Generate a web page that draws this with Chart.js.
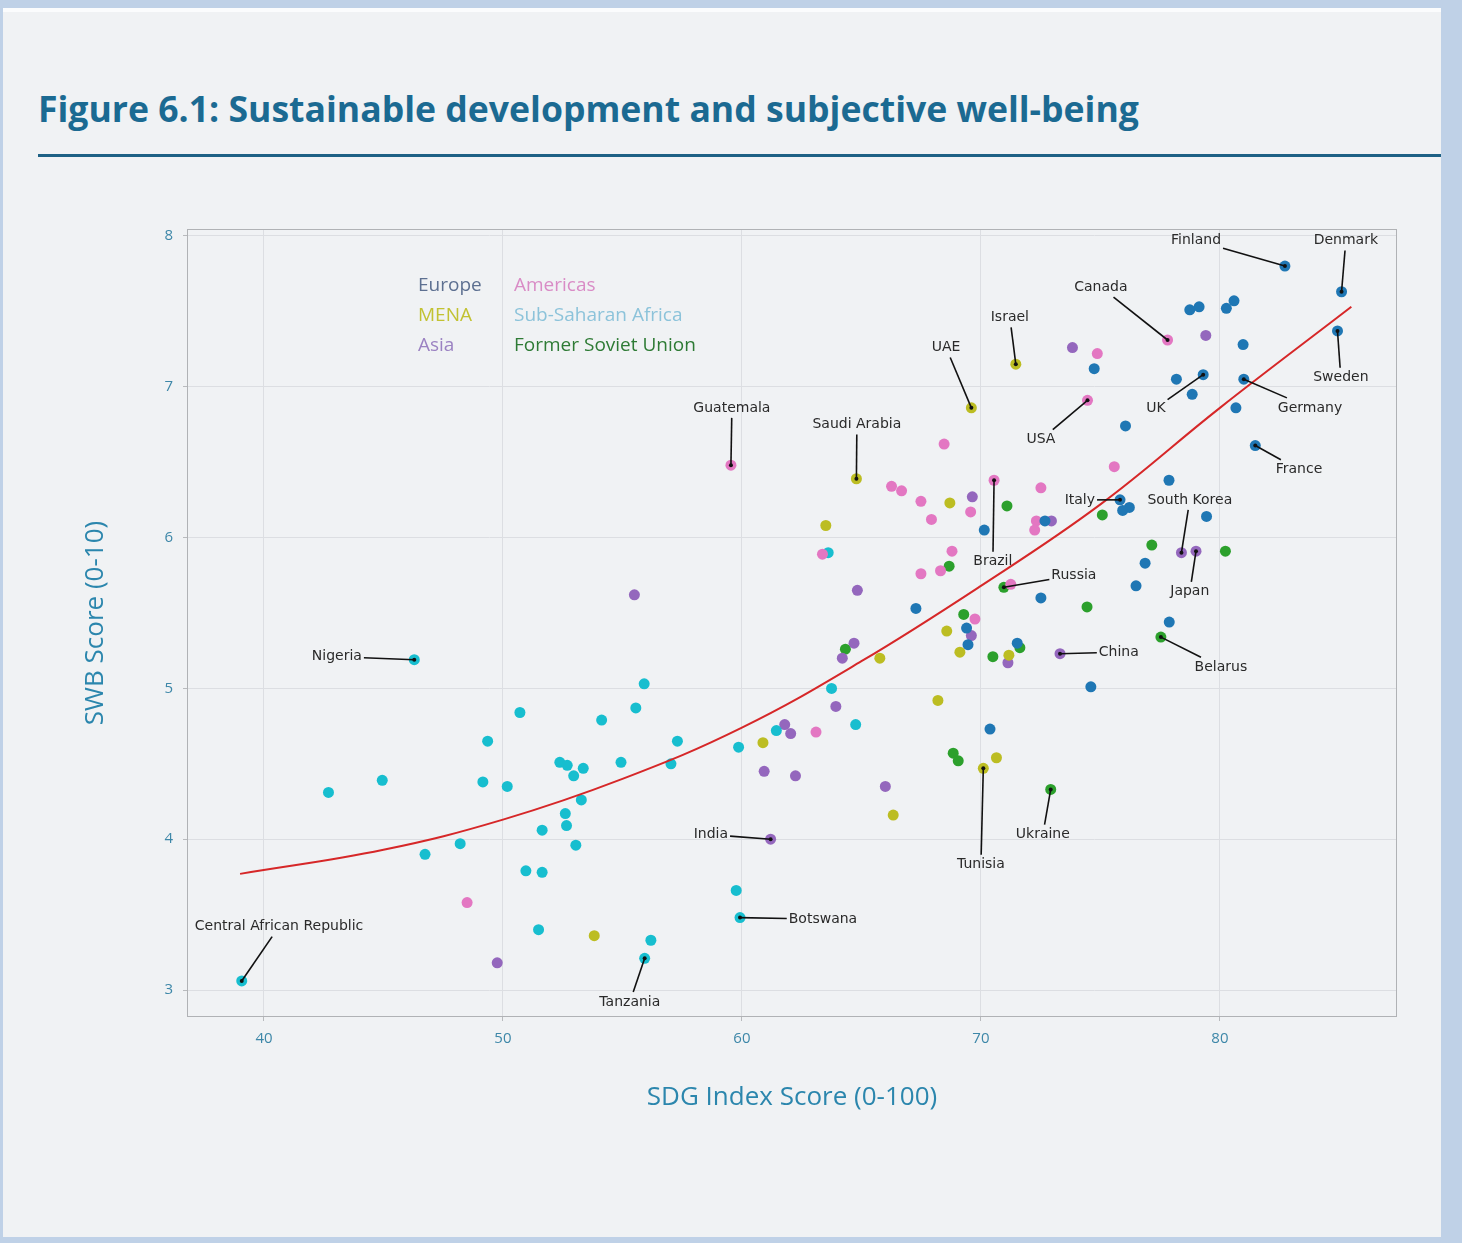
<!DOCTYPE html>
<html>
<head>
<meta charset="utf-8">
<script src="https://cdn.jsdelivr.net/npm/chart.js@4.4.1/dist/chart.umd.min.js"></script>
<style>
  html, body { margin: 0; padding: 0; }
  body { width: 1462px; height: 1243px; background: #bfd1e7; overflow: hidden; position: relative; font-family: "Open Sans", sans-serif; }
  #panel { position: absolute; left: 3px; top: 8px; width: 1438px; height: 1229px; background: #f0f2f4; border-top: 4px solid #fbfcfd; box-sizing: border-box; }
  #title { position: absolute; left: 38px; top: 92px; margin: 0; font-family: "Open Sans", sans-serif; font-weight: 700; font-size: 30px; line-height: 40px; color: #1b6a92; white-space: nowrap; }
  #rule { position: absolute; left: 38px; top: 154px; width: 1403px; height: 3px; background: #1e6185; }
  #wrap { position: absolute; left: 0; top: 180px; width: 1462px; height: 960px; }
</style>
</head>
<body>
<div id="panel"></div>
<h1 id="title">Figure 6.1: Sustainable development and subjective well-being</h1>
<div id="rule"></div>
<div id="wrap"><canvas id="chart"></canvas></div>
<script>
// region colours (matplotlib tab10 style)
const regions = ["Europe", "Americas", "MENA", "Sub-Saharan Africa", "Asia", "Former Soviet Union"];
const pointColors = ["#1f77b4", "#e377c2", "#bcbd22", "#17becf", "#9467bd", "#2ca02c"];
const legendColors = ["#5d7091", "#d98cc6", "#c2c232", "#8cc3da", "#9b82c2", "#2e7b35"];

// SDG index (x) and SWB score (y) per region
const europeX = [82.72, 85.09, 84.92, 79.30, 81.00, 81.48, 75.82, 78.74, 79.13, 80.27, 80.59, 80.97, 74.74, 78.18, 78.84, 80.67, 76.05, 77.87, 76.21, 75.93, 79.44, 72.68, 76.87, 76.49, 72.51, 77.88, 71.52, 74.60, 70.14, 67.28, 69.40, 69.46, 70.38];
const europeY = [7.80, 7.63, 7.37, 7.08, 7.05, 6.61, 6.25, 7.51, 7.53, 7.52, 7.57, 7.28, 7.12, 7.05, 6.95, 6.86, 6.74, 6.38, 6.20, 6.18, 6.14, 6.11, 5.83, 5.68, 5.60, 5.44, 5.30, 5.01, 6.05, 5.53, 5.40, 5.29, 4.73];

const americasX = [59.54, 77.81, 74.46, 70.55, 68.46, 66.26, 66.68, 67.49, 67.93, 69.57, 72.51, 72.32, 72.25, 63.37, 68.79, 67.49, 68.31, 69.75, 71.25, 63.10, 48.50, 74.87, 75.58];
const americasY = [6.48, 7.31, 6.91, 6.38, 6.62, 6.34, 6.31, 6.24, 6.12, 6.17, 6.33, 6.11, 6.05, 5.89, 5.91, 5.76, 5.78, 5.46, 5.69, 4.71, 3.58, 7.22, 6.47];

const menaX = [71.46, 69.60, 64.79, 70.10, 68.70, 63.51, 68.57, 69.12, 65.77, 71.17, 68.20, 60.88, 70.65, 66.33, 53.82];
const menaY = [7.15, 6.86, 6.39, 4.47, 6.23, 6.08, 5.38, 5.24, 5.20, 5.22, 4.92, 4.64, 4.54, 4.16, 3.36];

const ssaX = [46.29, 59.92, 39.07, 55.93, 55.91, 55.56, 50.71, 54.13, 49.36, 52.38, 52.69, 53.36, 54.94, 52.96, 44.95, 42.70, 49.16, 50.18, 53.28, 52.61, 52.66, 51.64, 48.21, 53.05, 46.74, 50.96, 51.64, 51.49, 56.19, 57.30, 57.03, 59.86, 61.44, 64.76, 63.75, 59.76, 63.61];
const ssaY = [5.19, 3.48, 3.06, 3.21, 5.03, 4.87, 4.84, 4.79, 4.65, 4.51, 4.49, 4.47, 4.51, 4.42, 4.39, 4.31, 4.38, 4.35, 4.26, 4.17, 4.09, 4.06, 3.97, 3.96, 3.90, 3.79, 3.78, 3.40, 3.33, 4.65, 4.50, 4.61, 4.72, 4.76, 5.00, 3.66, 5.90];

const asiaX = [61.20, 73.31, 78.39, 79.00, 55.50, 49.76, 69.64, 64.83, 64.69, 64.20, 69.60, 71.13, 63.93, 61.79, 62.04, 60.93, 62.24, 66.00, 73.83, 79.41, 72.95];
const asiaY = [4.00, 5.23, 5.90, 5.91, 5.62, 3.18, 6.27, 5.65, 5.30, 5.20, 5.35, 5.17, 4.88, 4.76, 4.70, 4.45, 4.42, 4.35, 7.26, 7.34, 6.11];

const fsuX = [70.96, 77.53, 72.92, 71.09, 68.67, 69.28, 64.33, 70.50, 71.63, 68.84, 69.05, 75.08, 77.15, 80.23, 74.44];
const fsuY = [5.67, 5.34, 4.33, 6.21, 5.81, 5.49, 5.26, 5.21, 5.27, 4.57, 4.52, 6.15, 5.95, 5.91, 5.54];

// fitted curve
const fitX = [39, 45, 50, 55, 60, 65, 70, 75, 80, 85.5];
const fitY = [3.77, 3.93, 4.13, 4.40, 4.74, 5.18, 5.68, 6.22, 6.86, 7.53];

// labelled countries: [label, region index, point index, text x, text y]
const callouts = [
  ["Finland", 0, 0, 79.0, 7.97],
  ["Denmark", 0, 1, 85.27, 7.97],
  ["Sweden", 0, 2, 85.06, 7.06],
  ["UK", 0, 3, 77.32, 6.86],
  ["Germany", 0, 4, 83.77, 6.86],
  ["France", 0, 5, 83.31, 6.45],
  ["Italy", 0, 6, 74.14, 6.25],
  ["Guatemala", 1, 0, 59.58, 6.86],
  ["Canada", 1, 1, 75.02, 7.66],
  ["USA", 1, 2, 72.51, 6.65],
  ["Brazil", 1, 3, 70.50, 5.84],
  ["Israel", 2, 0, 71.21, 7.46],
  ["UAE", 2, 1, 68.54, 7.26],
  ["Saudi Arabia", 2, 2, 64.81, 6.75],
  ["Tunisia", 2, 3, 70.00, 3.83],
  ["Nigeria", 3, 0, 43.05, 5.21],
  ["Botswana", 3, 1, 63.39, 3.47],
  ["Central African Republic", 3, 2, 40.63, 3.42],
  ["Tanzania", 3, 3, 55.31, 2.92],
  ["India", 4, 0, 58.70, 4.03],
  ["China", 4, 1, 75.77, 5.24],
  ["South Korea", 4, 2, 78.74, 6.25],
  ["Japan", 4, 3, 78.74, 5.64],
  ["Russia", 5, 0, 73.89, 5.75],
  ["Belarus", 5, 1, 80.04, 5.14],
  ["Ukraine", 5, 2, 72.59, 4.03]
];

const seriesX = [europeX, americasX, menaX, ssaX, asiaX, fsuX];
const seriesY = [europeY, americasY, menaY, ssaY, asiaY, fsuY];

// stretch the title to the width it has in the figure
(function fitTitle() {
  const el = document.getElementById("title");
  const ctx = document.createElement("canvas").getContext("2d");
  ctx.font = "700 30px 'Open Sans'";
  const w = ctx.measureText(el.textContent).width;
  const size = 30 * 1101 / w;
  el.style.fontSize = size.toFixed(2) + "px";
  el.style.top = (92 + (30 - size) * 0.8).toFixed(1) + "px";
})();

const tickColor = "#3d87a8";
const titleColor = "#2b86ad";
const gridColor = "#dcdee2";

const datasets = regions.map((name, i) => ({
  label: name,
  data: seriesX[i].map((x, k) => ({ x: x, y: seriesY[i][k] })),
  backgroundColor: pointColors[i],
  borderWidth: 0,
  pointRadius: 5.5,
  order: 1
}));

datasets.push({
  type: "line",
  label: "fit",
  data: fitX.map((x, k) => ({ x: x, y: fitY[k] })),
  borderColor: "#d62728",
  borderWidth: 2,
  pointRadius: 0,
  tension: 0.4,
  order: 0
});

const framePlugin = {
  id: "frame",
  beforeDatasetsDraw(chart) {
    const { ctx, chartArea: a } = chart;
    ctx.save();
    ctx.strokeStyle = "#b0b2b5";
    ctx.lineWidth = 1;
    ctx.strokeRect(a.left + 0.5, a.top + 0.5, a.right - a.left - 1, a.bottom - a.top - 1);
    ctx.restore();
  }
};

const legendPlugin = {
  id: "textLegend",
  afterDatasetsDraw(chart) {
    const { ctx, chartArea: a } = chart;
    ctx.save();
    ctx.font = "19px 'Open Sans'";
    ctx.textBaseline = "middle";
    ctx.textAlign = "left";
    regions.forEach((name, i) => {
      const col = i % 2, row = Math.floor(i / 2);
      ctx.fillStyle = legendColors[i];
      ctx.fillText(name, a.left + 231 + col * 96, a.top + 57 + row * 30);
    });
    ctx.restore();
  }
};

const calloutPlugin = {
  id: "callouts",
  afterDatasetsDraw(chart) {
    const { ctx } = chart;
    const xs = chart.scales.x, ys = chart.scales.y;
    ctx.save();
    ctx.font = "14px 'DejaVu Sans'";
    ctx.textAlign = "center";
    ctx.textBaseline = "middle";
    callouts.forEach(([label, r, k, tx, ty]) => {
      const px = xs.getPixelForValue(seriesX[r][k]);
      const py = ys.getPixelForValue(seriesY[r][k]);
      const cx = xs.getPixelForValue(tx);
      const cy = ys.getPixelForValue(ty);
      const hw = ctx.measureText(label).width / 2 + 2;
      const hh = 10;
      const dx = px - cx, dy = py - cy;
      const t = Math.min(dx ? hw / Math.abs(dx) : Infinity, dy ? hh / Math.abs(dy) : Infinity);
      ctx.strokeStyle = "#111";
      ctx.lineWidth = 1.6;
      ctx.beginPath();
      ctx.moveTo(cx + dx * t, cy + dy * t);
      ctx.lineTo(px, py);
      ctx.stroke();
      ctx.fillStyle = "#111";
      ctx.beginPath();
      ctx.arc(px, py, 2, 0, Math.PI * 2);
      ctx.fill();
      ctx.fillStyle = "#2a2a2a";
      ctx.fillText(label, cx, cy);
    });
    ctx.restore();
  }
};

new Chart(document.getElementById("chart"), {
  type: "scatter",
  data: { datasets: datasets },
  options: {
    responsive: true,
    maintainAspectRatio: false,
    animation: false,
    layout: { padding: { top: 49, right: 65, left: 0, bottom: 0 } },
    plugins: { legend: { display: false }, tooltip: { enabled: false } },
    scales: {
      x: {
        type: "linear",
        min: 36.78,
        max: 87.41,
        afterFit: s => { s.height = 123; },
        ticks: { stepSize: 10, includeBounds: false, padding: 9, color: tickColor, font: { family: "Open Sans", size: 15 } },
        grid: { color: gridColor, tickLength: 4, tickColor: "#b8babd" },
        border: { display: false },
        title: { display: true, text: "SDG Index Score (0-100)", color: titleColor, font: { family: "Open Sans", size: 26 }, padding: { top: 0, bottom: 27 } }
      },
      y: {
        min: 2.821,
        max: 8.046,
        afterFit: s => { s.width = 187; },
        ticks: { stepSize: 1, includeBounds: false, padding: 10, color: tickColor, font: { family: "Open Sans", size: 15 } },
        grid: { color: gridColor, tickLength: 4, tickColor: "#b8babd" },
        border: { display: false },
        title: { display: true, text: "SWB Score (0-10)", color: titleColor, font: { family: "Open Sans", size: 26 }, padding: { top: 80, bottom: 0 } }
      }
    }
  },
  plugins: [framePlugin, legendPlugin, calloutPlugin]
});
</script>
</body>
</html>
